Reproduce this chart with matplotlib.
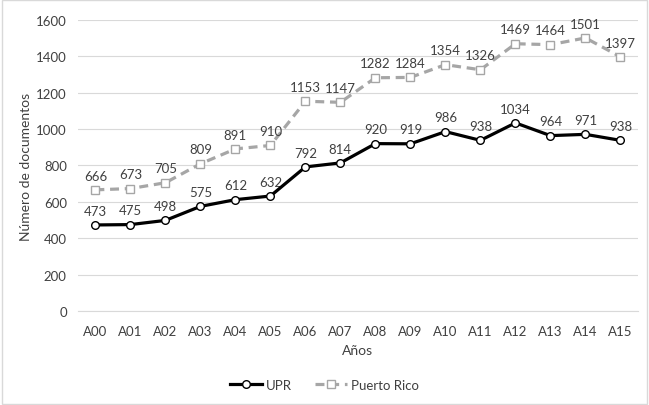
import matplotlib.pyplot as plt
from matplotlib.lines import Line2D
from matplotlib.patches import Rectangle

plt.rcParams['font.family'] = ['Lato', 'DejaVu Sans']

years = ['A%02d' % i for i in range(16)]
upr = [473, 475, 498, 575, 612, 632, 792, 814, 920, 919, 986, 938, 1034, 964, 971, 938]
puerto_rico = [666, 673, 705, 809, 891, 910, 1153, 1147, 1282, 1284, 1354, 1326, 1469, 1464, 1501, 1397]

txt = '#404040'
dash = (0, (2.8, 1.8))

fig = plt.figure(figsize=(6.49, 4.06), dpi=100)
ax = fig.add_axes([0.120, 0.2315, 0.863, 0.717])

x = list(range(len(years)))
ax.plot(x, puerto_rico, color='#a6a6a6', lw=2.3, ls=dash,
        marker='s', ms=5.5, mfc='white', mec='#a6a6a6', mew=1, zorder=3)
ax.plot(x, upr, color='black', lw=2.3,
        marker='o', ms=5.5, mfc='white', mec='black', mew=1, zorder=4)

for xi, v in zip(x, puerto_rico):
    ax.annotate(str(v), (xi, v), xytext=(0, 6), textcoords='offset points',
                ha='center', va='bottom', fontsize=9.5, color=txt)
for xi, v in zip(x, upr):
    ax.annotate(str(v), (xi, v), xytext=(0, 6), textcoords='offset points',
                ha='center', va='bottom', fontsize=9.5, color=txt)

ax.set_xlim(-0.5, 15.5)
ax.set_ylim(0, 1600)
ax.set_yticks(range(0, 1601, 200))
ax.set_xticks(x)
ax.set_xticklabels(years)
ax.grid(axis='y', color='#d9d9d9', lw=0.8)
ax.set_axisbelow(True)
for s in ['top', 'right', 'left']:
    ax.spines[s].set_visible(False)
ax.spines['bottom'].set_color('#d9d9d9')
ax.tick_params(length=0, labelsize=9.5, colors=txt)
ax.tick_params(axis='x', pad=10)
ax.tick_params(axis='y', pad=8)
ax.set_xlabel('Años', fontsize=10, color=txt, labelpad=5)
ax.set_ylabel('Número de documentos', fontsize=10, color=txt, labelpad=3)

handles = [
    Line2D([], [], color='black', lw=2.3, marker='o', ms=5.5, mfc='white', mec='black'),
    Line2D([], [], color='#a6a6a6', lw=2.3, ls=dash, marker='s', ms=5.5,
           mfc='white', mec='#a6a6a6'),
]
fig.legend(handles, ['UPR', 'Puerto Rico'], loc='center', bbox_to_anchor=(0.5, 0.05),
           ncol=2, frameon=False, fontsize=9.5, labelcolor=txt, handlelength=2.4,
           columnspacing=1.8, handletextpad=0.3)

fig.patches.append(Rectangle((0.003, 0.003), 0.994, 0.994, transform=fig.transFigure,
                             fill=False, ec='#d9d9d9', lw=1))

fig.savefig('out.png', dpi=100)
